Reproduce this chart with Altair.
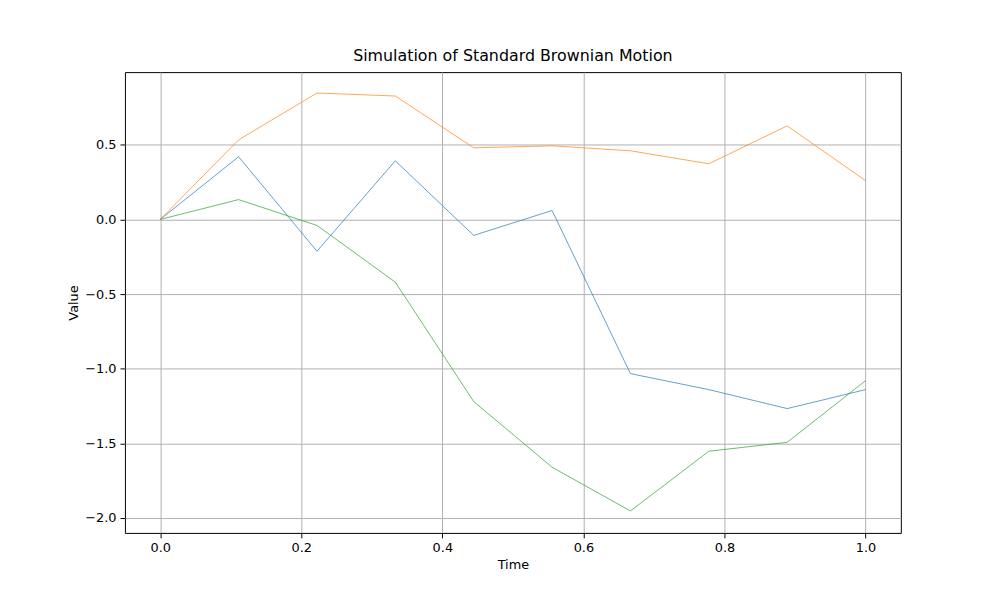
import pandas as pd
import altair as alt

time = [0.0, 1/9, 2/9, 3/9, 4/9, 5/9, 6/9, 7/9, 8/9, 1.0]
path_1 = [0.0, 0.42, -0.213, 0.393, -0.107, 0.06, -1.033, -1.14, -1.267, -1.14]
path_2 = [0.0, 0.533, 0.847, 0.827, 0.48, 0.493, 0.46, 0.373, 0.627, 0.26]
path_3 = [0.0, 0.133, -0.04, -0.42, -1.22, -1.66, -1.953, -1.553, -1.493, -1.08]

rows = []
for name, vals in [("p1", path_1), ("p2", path_2), ("p3", path_3)]:
    for t, v in zip(time, vals):
        rows.append({"Time": t, "Value": v, "Path": name})
df = pd.DataFrame(rows)

font = "DejaVu Sans"

chart = alt.Chart(df).mark_line(strokeWidth=0.7).encode(
    x=alt.X("Time:Q", scale=alt.Scale(domain=[-0.05, 1.05], nice=False, zero=False),
            axis=alt.Axis(values=[0, 0.2, 0.4, 0.6, 0.8, 1.0], format=".1f", title="Time")),
    y=alt.Y("Value:Q", scale=alt.Scale(domain=[-2.1, 0.987], nice=False, zero=False),
            axis=alt.Axis(values=[-2.0, -1.5, -1.0, -0.5, 0.0, 0.5], format=".1f", title="Value")),
    color=alt.Color("Path:N", legend=None,
                    scale=alt.Scale(domain=["p1", "p2", "p3"], range=["#1f77b4", "#ff7f0e", "#2ca02c"])),
).properties(
    width=783,
    height=465,
    title=alt.Title("Simulation of Standard Brownian Motion", fontSize=16, fontWeight="normal",
                    font=font, offset=8),
    autosize=alt.AutoSizeParams(type="none"),
    padding={"left": 118, "top": 62, "right": 92, "bottom": 65},
).configure_view(
    stroke="black", strokeWidth=1
).configure_axis(
    grid=True, gridColor="#b0b0b0", gridWidth=1, domain=False,
    tickColor="black", tickSize=5, labelFont=font, labelFontSize=13, labelColor="black",
    titleFont=font, titleFontSize=13, titleFontWeight="normal", titleColor="black",
    labelPadding=4,
)

chart.save("out.html", embed_options={"renderer": "svg", "actions": False})
